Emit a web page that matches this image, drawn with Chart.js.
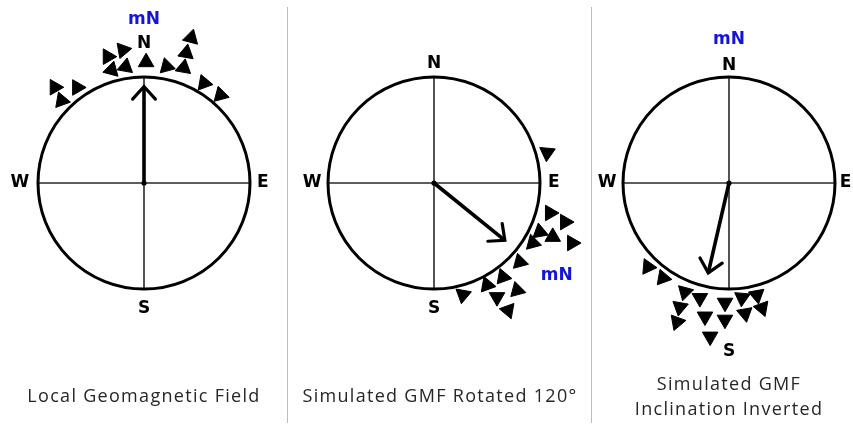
<!DOCTYPE html>
<html>
<head>
<meta charset="utf-8">
<script src="https://cdn.jsdelivr.net/npm/chart.js@4.4.1/dist/chart.umd.min.js"></script>
<style>
  html, body { margin: 0; padding: 0; background: #fff; }
  #wrap { position: relative; width: 853px; height: 426px; overflow: hidden; background: #fff; }
  .panel { position: absolute; top: 0; }
  .sep { position: absolute; top: 7px; height: 416px; width: 0; border-left: 1.5px solid #bdbdbd; }
</style>
</head>
<body>
<div id="wrap">
  <canvas id="c1" class="panel" width="288" height="426" style="left:0px"></canvas>
  <div class="sep" style="left:287px"></div>
  <canvas id="c2" class="panel" width="302" height="426" style="left:289px"></canvas>
  <div class="sep" style="left:591px"></div>
  <canvas id="c3" class="panel" width="260" height="426" style="left:593px"></canvas>
</div>
<script>
// Compass units: bearing in degrees clockwise from north, distance in circle radii.
// Triangle turn is the marker rotation in degrees (0 = apex up).

// Panel 1 - local geomagnetic field
const p1TriBearing = [317, 325, 315, 344, 351, 344, 351, 1, 11, 19, 18, 18, 31, 41];
const p1TriDist    = [1.235, 1.10, 1.10, 1.24, 1.27, 1.11, 1.11, 1.14, 1.12, 1.15, 1.29, 1.44, 1.10, 1.10];
const p1TriTurn    = [90, 90, 100, 90, 80, 15, 10, 0, -15, 10, 10, 15, -20, -15];

// Panel 2 - simulated field rotated 120 degrees
const p2TriBearing = [75, 104.5, 106.6, 114.8, 114.4, 113.5, 121.2, 132.6, 143.7, 152.5, 142.2, 151.1, 149.8, 165.5];
const p2TriDist    = [1.105, 1.13, 1.29, 1.10, 1.23, 1.42, 1.09, 1.10, 1.10, 1.085, 1.28, 1.23, 1.39, 1.09];
const p2TriTurn    = [65, 90, 90, -10, 0, 90, -15, -15, -20, 100, -15, 60, 40, 70];

// Panel 3 - simulated field, inclination inverted
const p3TriBearing = [224, 214.8, 202, 201.6, 200.5, 194.2, 181.9, 173.5, 166, 190.2, 181.7, 173, 165.2, 187];
const p3TriDist    = [1.10, 1.09, 1.11, 1.26, 1.40, 1.12, 1.13, 1.09, 1.09, 1.28, 1.29, 1.24, 1.22, 1.46];
const p3TriTurn    = [95, 100, 75, 70, 80, 60, 60, 65, 50, 60, 60, 50, 40, 60];

// Field vector of each panel
const fieldBearing = [0, 129, 193];
const fieldLength  = [0.91, 0.86, 0.87];

// Compass letters: distance from centre for N, E, S, W
const cardinalText = ['N', 'E', 'S', 'W'];
const cardinalBearing = [0, 90, 180, 270];
const p1CardinalDist = [1.32, 1.12, 1.18, 1.17];
const p2CardinalDist = [1.13, 1.13, 1.18, 1.15];
const p3CardinalDist = [1.11, 1.10, 1.59, 1.15];

// Magnetic-north marker
const mnText = 'mN';
const mnBearing = [0, 127, 0];
const mnDist    = [1.54, 1.45, 1.35];

// Captions
const p1Caption = ['Local Geomagnetic Field'];
const p2Caption = ['Simulated GMF Rotated 120°'];
const p3Caption = ['Simulated GMF', 'Inclination Inverted'];

const toXY = (b, d) => {
  const r = b * Math.PI / 180;
  return { x: d * Math.sin(r), y: d * Math.cos(r) };
};

const PX_PER_UNIT = 106;
const CENTER_Y = 183;

const compassPlugin = {
  id: 'compass',
  beforeDatasetsDraw(chart) {
    const { ctx, scales: { x, y } } = chart;
    const cx = x.getPixelForValue(0), cy = y.getPixelForValue(0);
    const r = x.getPixelForValue(1) - cx;
    ctx.save();
    ctx.strokeStyle = '#2a2a2a';
    ctx.lineWidth = 1.6;
    ctx.beginPath();
    ctx.moveTo(cx - r, cy); ctx.lineTo(cx + r, cy);
    ctx.moveTo(cx, cy - r); ctx.lineTo(cx, cy + r);
    ctx.stroke();
    ctx.strokeStyle = '#000';
    ctx.lineWidth = 3;
    ctx.beginPath();
    ctx.arc(cx, cy, r, 0, Math.PI * 2);
    ctx.stroke();
    ctx.restore();
  },
  afterDatasetsDraw(chart, args, opts) {
    const { ctx, scales: { x, y } } = chart;
    // arrowhead on the field vector
    const meta = chart.getDatasetMeta(0);
    const p0 = meta.data[0], p1 = meta.data[1];
    const ang = Math.atan2(p1.y - p0.y, p1.x - p0.x);
    const arm = 17, spread = 42 * Math.PI / 180;
    ctx.save();
    ctx.strokeStyle = '#000';
    ctx.lineWidth = 3.2;
    ctx.lineCap = 'round';
    ctx.lineJoin = 'miter';
    ctx.beginPath();
    ctx.moveTo(p1.x - arm * Math.cos(ang - spread), p1.y - arm * Math.sin(ang - spread));
    ctx.lineTo(p1.x, p1.y);
    ctx.lineTo(p1.x - arm * Math.cos(ang + spread), p1.y - arm * Math.sin(ang + spread));
    ctx.stroke();

    // compass letters
    ctx.textAlign = 'center';
    ctx.textBaseline = 'middle';
    ctx.font = 'bold 17px "DejaVu Sans", Verdana, sans-serif';
    ctx.fillStyle = '#000';
    cardinalText.forEach((t, i) => {
      const p = toXY(cardinalBearing[i], opts.cardinalDist[i]);
      ctx.fillText(t, x.getPixelForValue(p.x), y.getPixelForValue(p.y));
    });
    const m = toXY(opts.mnBearing, opts.mnDist);
    ctx.fillStyle = '#1414d8';
    ctx.fillText(mnText, x.getPixelForValue(m.x), y.getPixelForValue(m.y));

    // caption
    ctx.fillStyle = '#262626';
    ctx.font = '18px "Open Sans", "Noto Sans", sans-serif';
    ctx.letterSpacing = '1.3px';
    const cxPix = x.getPixelForValue(0) + (opts.captionShift || 0);
    opts.caption.forEach((line, i) => {
      ctx.fillText(line, cxPix, opts.captionY[i]);
    });
    ctx.restore();
  }
};

function buildPanel(id, idx, centerX, triB, triD, triT, cardinalDist, caption, captionY, captionShift) {
  const canvas = document.getElementById(id);
  const W = canvas.width, H = canvas.height;
  const tip = toXY(fieldBearing[idx], fieldLength[idx]);
  const tris = triB.map((b, i) => toXY(b, triD[i]));
  return new Chart(canvas, {
    type: 'scatter',
    data: {
      datasets: [
        {
          type: 'line',
          data: [{ x: 0, y: 0 }, tip],
          borderColor: '#000',
          borderWidth: 3.6,
          pointRadius: c => c.dataIndex === 0 ? 2.6 : 0,
          pointBackgroundColor: '#000',
          pointBorderWidth: 0,
          fill: false,
          clip: false
        },
        {
          data: tris,
          pointStyle: 'triangle',
          pointRadius: 9,
          pointRotation: c => triT[c.dataIndex],
          pointBackgroundColor: '#000',
          pointBorderColor: '#000',
          pointBorderWidth: 1,
          clip: false
        }
      ]
    },
    options: {
      responsive: false,
      animation: false,
      events: [],
      layout: { padding: 0, autoPadding: false },
      plugins: {
        legend: { display: false },
        tooltip: { enabled: false },
        compass: {
          cardinalDist,
          mnBearing: mnBearing[idx],
          mnDist: mnDist[idx],
          caption,
          captionY,
          captionShift
        }
      },
      scales: {
        x: { type: 'linear', display: false, min: -centerX / PX_PER_UNIT, max: (W - centerX) / PX_PER_UNIT },
        y: { type: 'linear', display: false, min: -(H - CENTER_Y) / PX_PER_UNIT, max: CENTER_Y / PX_PER_UNIT }
      }
    },
    plugins: [compassPlugin]
  });
}

buildPanel('c1', 0, 144, p1TriBearing, p1TriDist, p1TriTurn, p1CardinalDist, p1Caption, [397], 0);
buildPanel('c2', 1, 145, p2TriBearing, p2TriDist, p2TriTurn, p2CardinalDist, p2Caption, [397], 6);
buildPanel('c3', 2, 136, p3TriBearing, p3TriDist, p3TriTurn, p3CardinalDist, p3Caption, [385, 410], 0);
</script>
</body>
</html>
